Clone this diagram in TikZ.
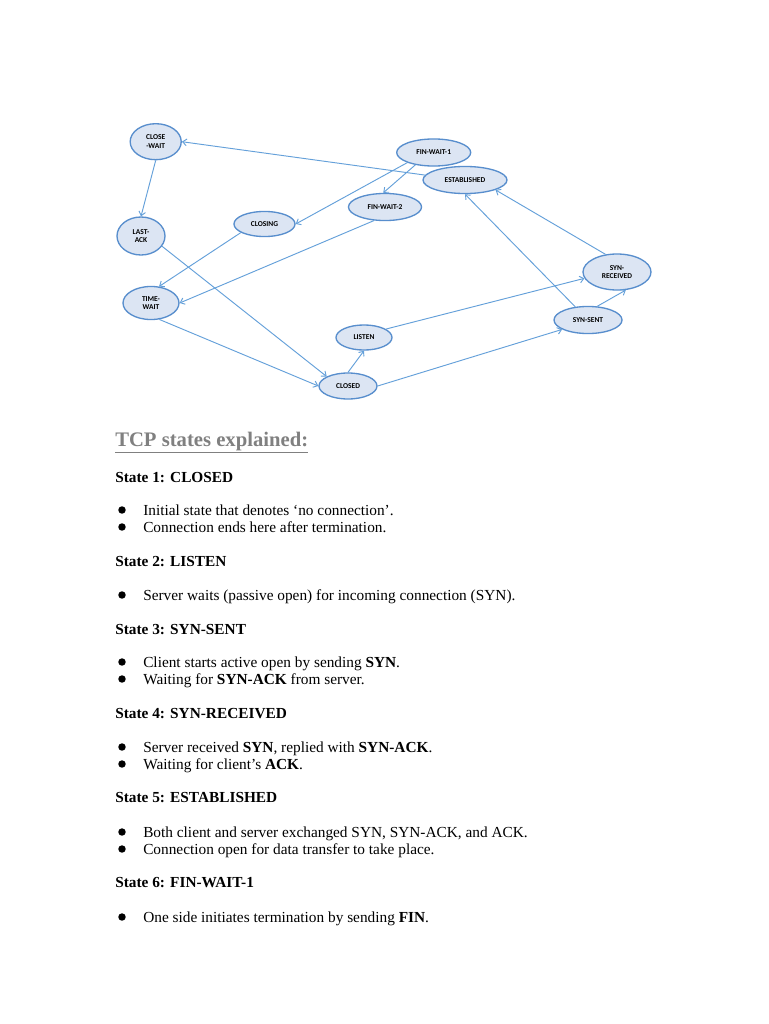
\documentclass[tikz,border=0pt]{standalone}
\usepackage{fontspec}
\setmainfont{Liberation Serif}
\newfontfamily\calib{Carlito}
\usetikzlibrary{shapes.geometric,arrows.meta}
\definecolor{statefill}{RGB}{220,229,243}
\definecolor{stateline}{RGB}{88,142,205}
\definecolor{edgeblue}{RGB}{100,160,218}
\begin{document}
\begin{tikzpicture}[x=0.75pt,y=-0.75pt,
    state/.style={ellipse,draw=stateline,fill=statefill,line width=1pt,inner sep=0pt,align=center,font=\calib\bfseries\fontsize{5.6}{6.4}\selectfont},
    trans/.style={draw=edgeblue,line width=0.7pt,-{Straight Barb[length=3pt,width=5pt]}},
    line/.style={anchor=base west,inner sep=0pt,font=\fontsize{11.5}{13}\selectfont},
    dot/.style={circle,fill=black,inner sep=0pt,minimum size=5.6pt}]
    \fill[white] (0,0) rectangle (768,1024);
    \useasboundingbox (0,0) rectangle (768,1024);

    % states
    \node[state,minimum width=38.3pt,minimum height=27pt] (closewait) at (155.7,141.7) {CLOSE\\-WAIT};
    \node[state,minimum width=36pt,minimum height=28.5pt] (lastack) at (141,236) {LAST-\\ACK};
    \node[state,minimum width=45.8pt,minimum height=18.8pt] (closing) at (264.5,224) {CLOSING};
    \node[state,minimum width=54.8pt,minimum height=20.3pt] (finwait2) at (385,207) {FIN-WAIT-2};
    \node[state,minimum width=42pt,minimum height=24.8pt] (timewait) at (151,303) {TIME-\\WAIT};
    \node[state,minimum width=42pt,minimum height=18.8pt] (listen) at (364,337.5) {LISTEN};
    \node[state,minimum width=43.5pt,minimum height=19.5pt] (closed) at (348,386) {CLOSED};
    \node[state,minimum width=55.5pt,minimum height=20.3pt] (finwait1) at (433.7,152.5) {FIN-WAIT-1};
    \node[state,minimum width=63pt,minimum height=20.3pt] (established) at (465,180) {ESTABLISHED};
    \node[state,minimum width=51pt,minimum height=27pt] (synrcvd) at (617,272) {SYN-\\RECEIVED};
    \node[state,minimum width=51pt,minimum height=20.3pt] (synsent) at (588,320) {SYN-SENT};

    % transitions
    \draw[trans] (established.173) -- (closewait.east);
    \draw[trans] (finwait1.201) -- (closing.east);
    \draw[trans] (finwait1.214) -- (finwait2.97);
    \draw[trans] (closewait.south) -- (lastack.north);
    \draw[trans] (closing.200) -- (timewait.64);
    \draw[trans] (finwait2.231) -- (timewait.east);
    \draw[trans] (lastack.334) -- (closed.156);
    \draw[trans] (timewait.297) -- (closed.west);
    \draw[trans] (closed.north) -- (listen.south);
    \draw[trans] (closed.east) -- (synsent.200);
    \draw[trans] (listen.21) -- (synrcvd.191);
    \draw[trans] (synsent.56) -- (synrcvd.296);
    \draw[trans] (synsent.134) -- (established.south);
    \draw[trans] (synrcvd.123) -- (established.342);

    % text
    \node[line,font=\bfseries\fontsize{15.5}{18}\selectfont,text=black!50] (title) at (115,446) {\underline{TCP states explained:}};
    \foreach \y/\txt [count=\i] in {482/CLOSED,566/LISTEN,634/SYN-SENT,718/SYN-RECEIVED,802/ESTABLISHED,887/FIN-WAIT-1}
        \node[line,font=\bfseries\fontsize{11.5}{13}\selectfont] (state\i) at (115,\y) {State \i: \txt};
    \foreach \y/\txt [count=\i] in {515/{Initial state that denotes ‘no connection’.},
        532/{Connection ends here after termination.},
        600/{Server waits (passive open) for incoming connection (SYN).},
        667/{Client starts active open by sending \textbf{SYN}.},
        684/{Waiting for \textbf{SYN-ACK} from server.},
        752/{Server received \textbf{SYN}, replied with \textbf{SYN-ACK}.},
        769/{Waiting for client’s \textbf{ACK}.},
        837/{Both client and server exchanged SYN, SYN-ACK, and ACK.},
        854/{Connection open for data transfer to take place.},
        922/{One side initiates termination by sending \textbf{FIN}.}}
    {
        \node[dot] (dot\i) at (122,\y-5) {};
        \node[line] (item\i) at (143,\y) {\txt};
    }
\end{tikzpicture}
\end{document}
